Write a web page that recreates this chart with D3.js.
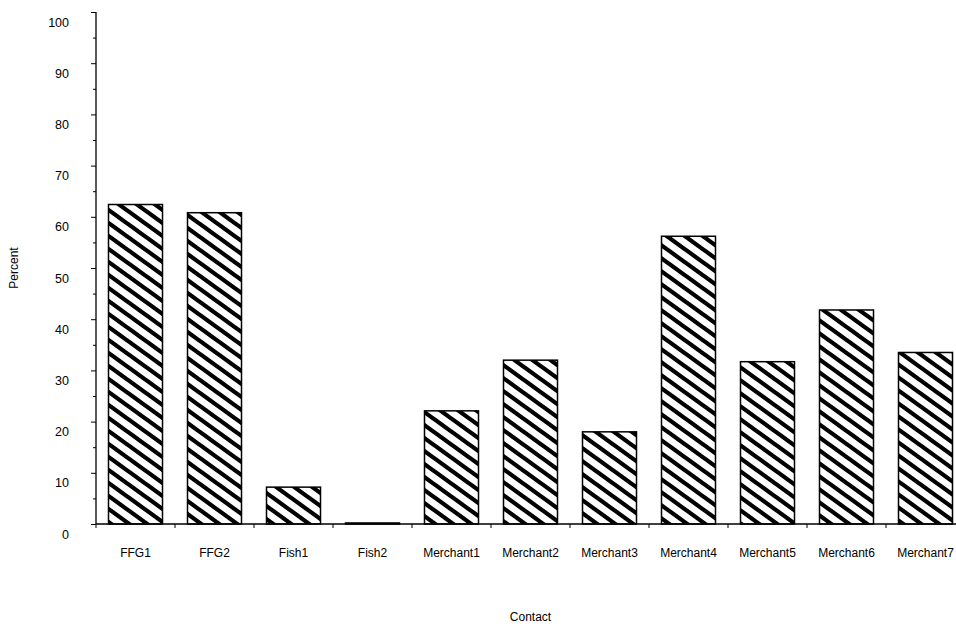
<!DOCTYPE html>
<html>
<head>
<meta charset="utf-8">
<script src="https://cdn.jsdelivr.net/npm/d3@7"></script>
<style>
  html, body { margin: 0; padding: 0; background: #fff; }
  svg { display: block; font-family: "Liberation Sans", Arial, sans-serif; }
</style>
</head>
<body>
<svg id="chart" width="956" height="624"></svg>
<script>
// Share of contacts per group, in percent
const categories = ["FFG1", "FFG2", "Fish1", "Fish2", "Merchant1", "Merchant2",
                    "Merchant3", "Merchant4", "Merchant5", "Merchant6", "Merchant7"];
const percentValues = [62.4, 60.8, 7.2, 0.2, 22.1, 32.0, 18.0, 56.2, 31.7, 41.8, 33.5];
const majorTicks = [0, 10, 20, 30, 40, 50, 60, 70, 80, 90, 100];
const minorTicks = [5, 15, 25, 35, 45, 55, 65, 75, 85, 95];
const yTitle = "Percent";
const xTitle = "Contact";

(function () {
  const svg = d3.select("#chart");
  const plotLeft = 96, plotTop = 12, plotBottom = 524, step = 79;

  const x = d3.scaleBand()
    .domain(categories)
    .range([plotLeft, plotLeft + step * categories.length])
    .paddingInner(25 / 79)
    .paddingOuter(12.5 / 79);

  const y = d3.scaleLinear().domain([0, 100]).range([plotBottom, plotTop]);

  // Diagonal hatch fill: long strokes running past the tile so the stripes join seamlessly
  const defs = svg.append("defs");
  const W = 18, H = 13;
  const pat = defs.append("pattern")
    .attr("id", "hatch")
    .attr("patternUnits", "userSpaceOnUse")
    .attr("width", W).attr("height", H)
    .attr("x", 2).attr("y", 3);
  pat.append("rect").attr("width", W).attr("height", H).attr("fill", "#fff");
  const stripePath = d3.range(-2, 3)
    .map(k => `M${-W},${-H + k * H} L${2 * W},${2 * H + k * H}`)
    .join(" ");
  pat.append("path")
    .attr("d", stripePath)
    .attr("stroke", "#000")
    .attr("stroke-width", 4.2)
    .attr("fill", "none");

  // Bars
  svg.append("g").selectAll("rect")
    .data(categories.map((c, i) => ({ c, v: percentValues[i] })))
    .join("rect")
    .attr("x", d => x(d.c))
    .attr("y", d => y(d.v))
    .attr("width", x.bandwidth())
    .attr("height", d => y(0) - y(d.v))
    .attr("fill", "url(#hatch)")
    .attr("stroke", "#000")
    .attr("stroke-width", 1.5);

  // Y axis: major ticks with labels, minor ticks without
  const yAxis = svg.append("g")
    .attr("transform", `translate(${plotLeft},0)`)
    .call(d3.axisLeft(y).tickValues(majorTicks).tickSize(5).tickPadding(22).tickFormat(d3.format("d")));
  yAxis.select(".domain").remove();
  yAxis.selectAll("text")
    .attr("font-size", 12.5)
    .attr("font-family", "Liberation Sans, Arial, sans-serif")
    .attr("fill", "#000")
    .attr("transform", "translate(0,10)");
  yAxis.selectAll("line").attr("stroke", "#000");

  const yMinor = svg.append("g")
    .attr("transform", `translate(${plotLeft},0)`)
    .call(d3.axisLeft(y).tickValues(minorTicks).tickSize(3).tickFormat(""));
  yMinor.select(".domain").remove();
  yMinor.selectAll("line").attr("stroke", "#000");

  svg.append("line")
    .attr("x1", plotLeft).attr("x2", plotLeft)
    .attr("y1", y(100)).attr("y2", y(0))
    .attr("stroke", "#000").attr("stroke-width", 1.3);

  // X axis: baseline, boundary ticks, category labels
  const xEnd = plotLeft + step * categories.length;
  svg.append("line")
    .attr("x1", plotLeft).attr("x2", xEnd)
    .attr("y1", plotBottom).attr("y2", plotBottom)
    .attr("stroke", "#000").attr("stroke-width", 1.3);

  const boundaries = d3.range(categories.length + 1).map(i => plotLeft + x.step() * i);
  svg.append("g").selectAll("line")
    .data(boundaries)
    .join("line")
    .attr("x1", d => d).attr("x2", d => d)
    .attr("y1", plotBottom).attr("y2", plotBottom + 4)
    .attr("stroke", "#000");

  svg.append("g").selectAll("text")
    .data(categories)
    .join("text")
    .attr("x", d => x(d) + x.bandwidth() / 2)
    .attr("y", 557)
    .attr("text-anchor", "middle")
    .attr("font-size", 12)
    .attr("fill", "#000")
    .text(d => d);

  // Axis titles
  svg.append("text")
    .attr("transform", `translate(18,${(plotTop + plotBottom) / 2}) rotate(-90)`)
    .attr("text-anchor", "middle")
    .attr("font-size", 12)
    .attr("fill", "#000")
    .text(yTitle);

  svg.append("text")
    .attr("x", (plotLeft + xEnd) / 2)
    .attr("y", 621)
    .attr("text-anchor", "middle")
    .attr("font-size", 12)
    .attr("fill", "#000")
    .text(xTitle);
})();
</script>
</body>
</html>
